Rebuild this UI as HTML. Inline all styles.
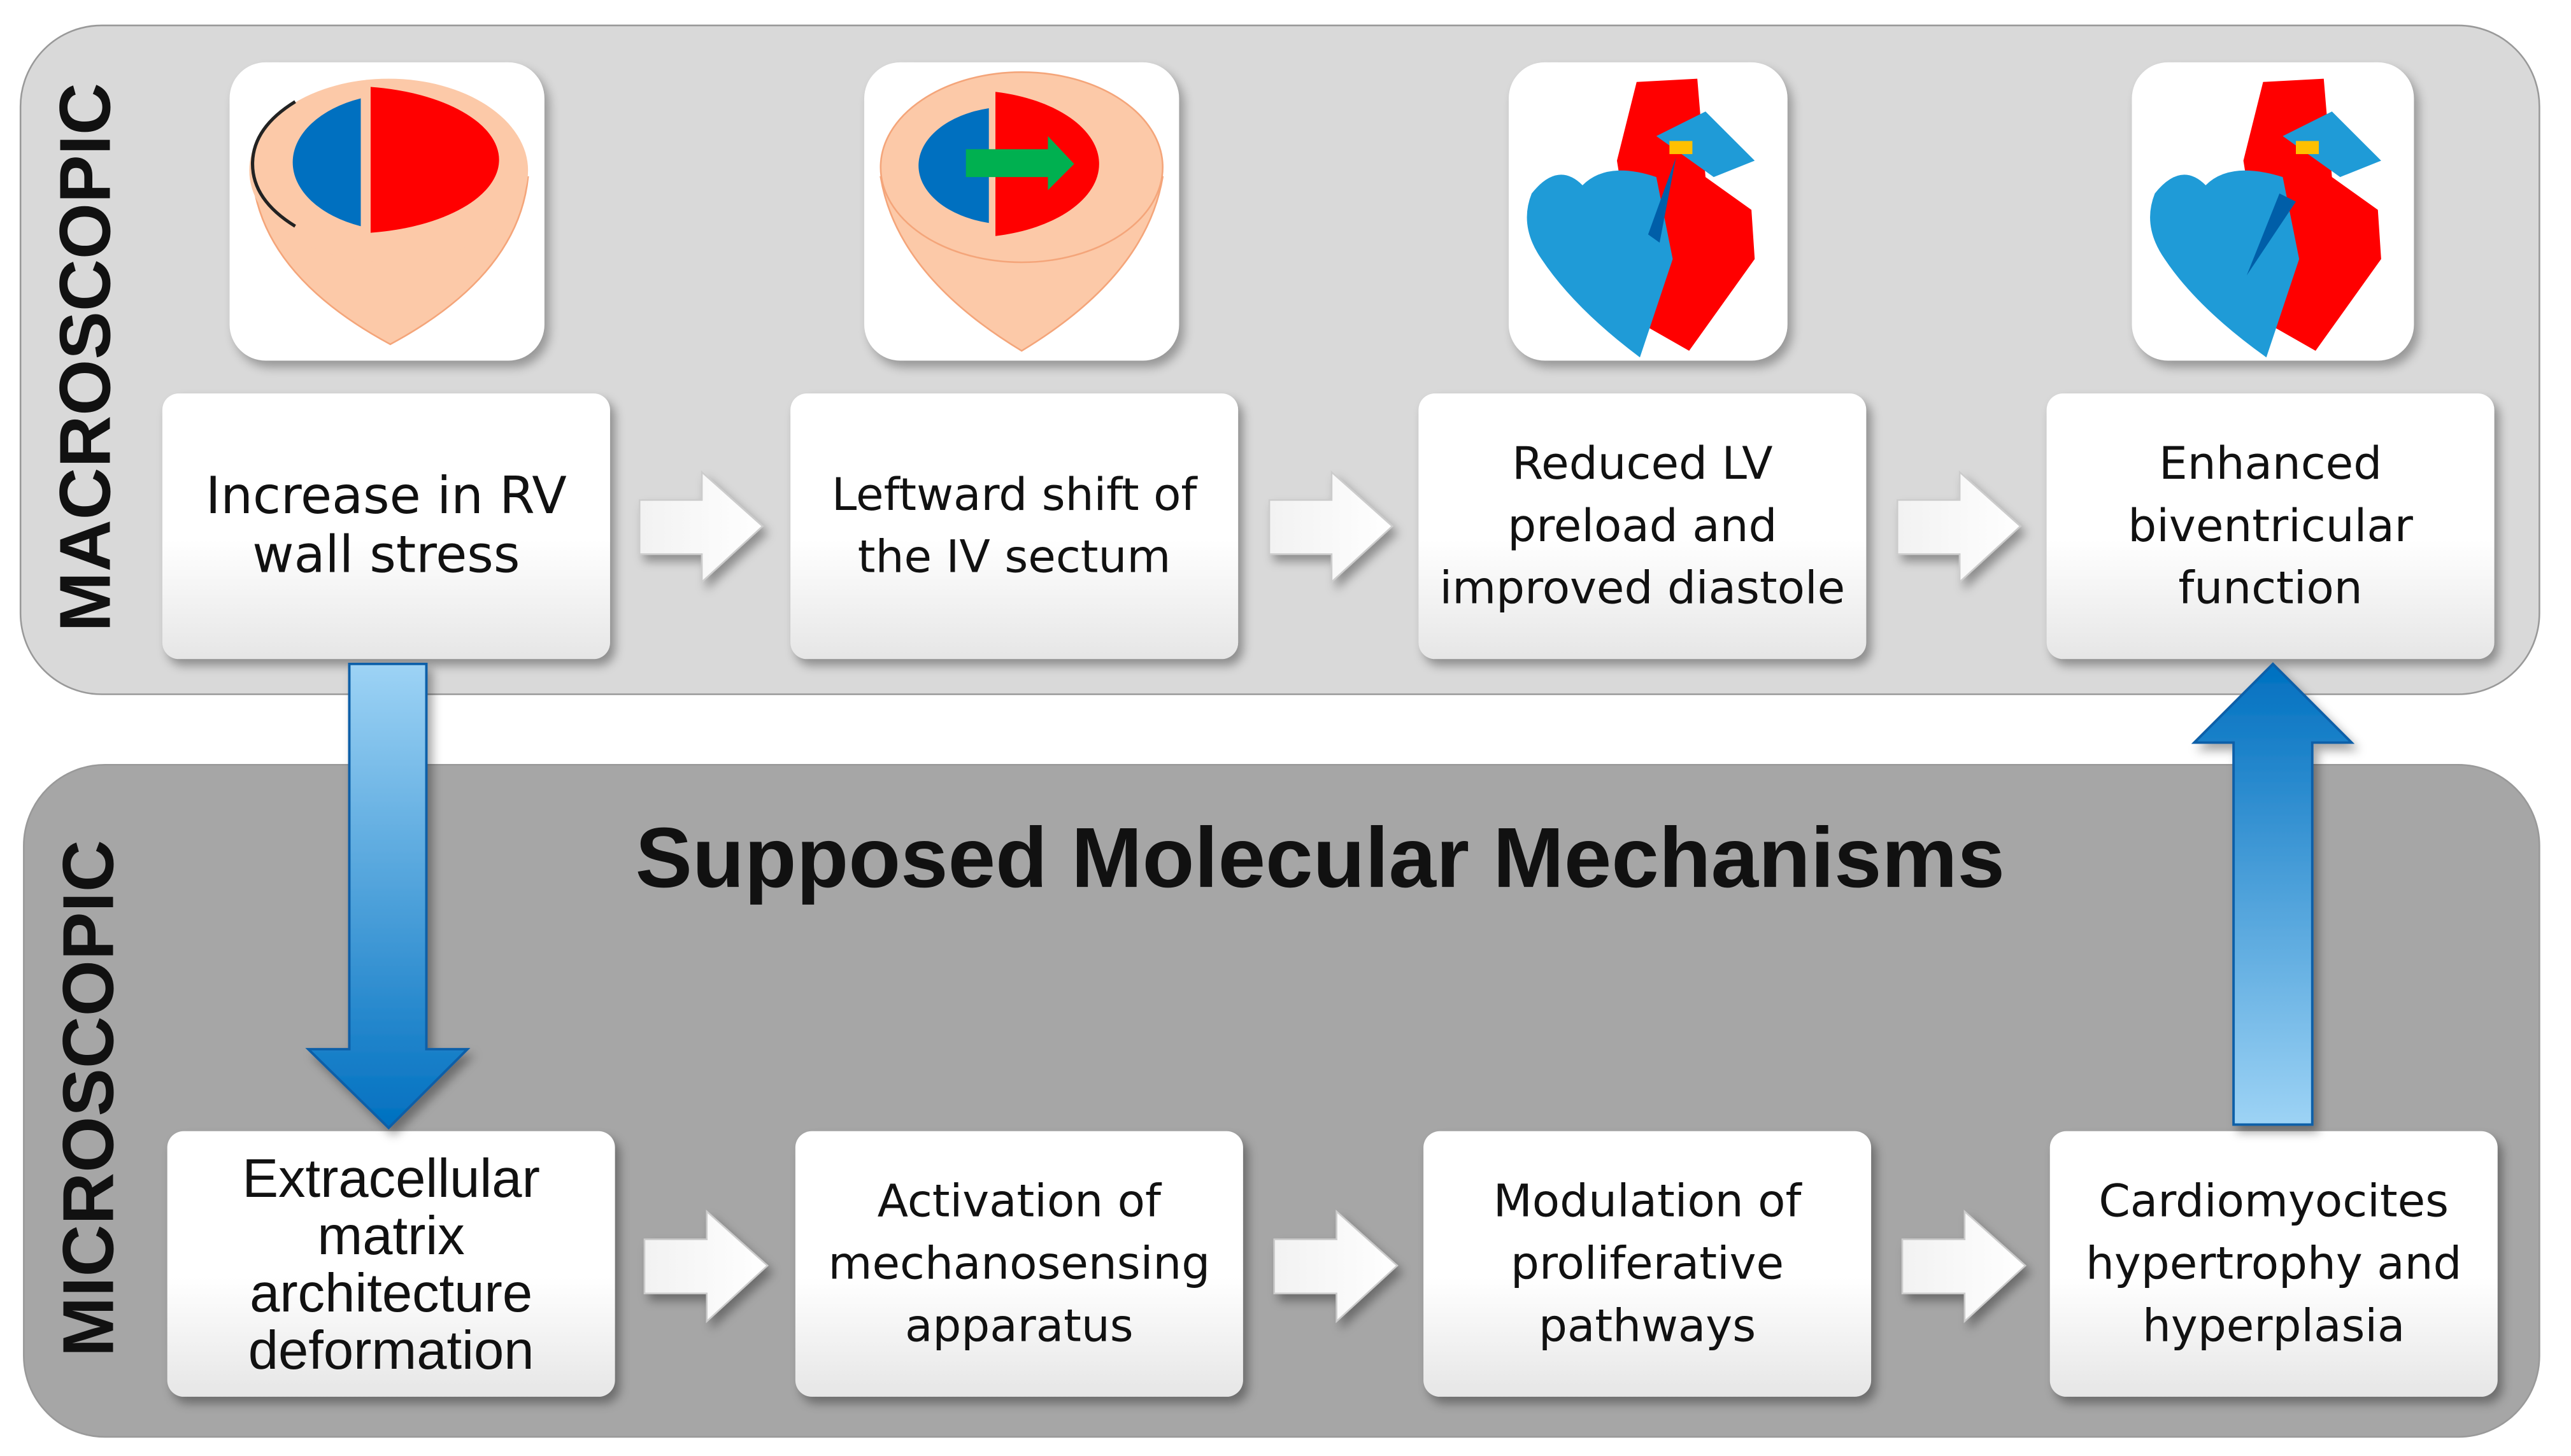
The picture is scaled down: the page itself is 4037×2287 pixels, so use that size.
<!DOCTYPE html>
<html><head><meta charset="utf-8"><style>
html,body{margin:0;padding:0;background:#fff;}
body{width:4037px;height:2287px;overflow:hidden;position:relative;}
#w{position:absolute;left:0;top:0;width:1560px;height:884px;transform:scale(2.575);transform-origin:0 0;font-family:"Liberation Sans","DejaVu Sans",sans-serif;}
.panel{position:absolute;border-radius:50px;border:1.5px solid #999;}
.box{position:absolute;width:273px;height:162px;border-radius:10px;background:linear-gradient(#fff 0%,#fff 55%,#e6e6e6 100%);box-shadow:3px 4px 6px rgba(0,0,0,.35);display:flex;align-items:center;justify-content:center;text-align:center;line-height:38px;color:#111;font-family:"DejaVu Sans","Liberation Sans",sans-serif;font-size:27.5px;}
.tile{position:absolute;background:#fff;border-radius:22px;box-shadow:3px 4px 6px rgba(0,0,0,.3);}
.vt{position:absolute;font-weight:bold;font-size:44px;transform:rotate(-90deg);transform-origin:center;white-space:nowrap;color:#111;}
svg{position:absolute;overflow:visible;}
</style></head><body><div id="w">
<div class="panel" style="left:12px;top:15px;width:1535px;height:407px;background:#d9d9d9"></div>
<div class="panel" style="left:14px;top:466px;width:1533px;height:409px;background:#a6a6a6"></div>
<div class="vt" style="left:-122px;top:193px;width:350px;text-align:center">MACROSCOPIC</div>
<div class="vt" style="left:-120px;top:645px;width:350px;text-align:center">MICROSCOPIC</div>
<div style="position:absolute;left:250px;top:494px;width:1110px;text-align:center;font-weight:bold;font-size:52px;color:#111">Supposed Molecular Mechanisms</div>

<div class="tile" style="left:140px;top:38px;width:192px;height:182px"></div>
<div class="tile" style="left:527px;top:38px;width:192px;height:182px"></div>
<div class="tile" style="left:920px;top:38px;width:170px;height:182px"></div>
<div class="tile" style="left:1300px;top:38px;width:172px;height:182px"></div>
<svg style="left:140px;top:38px" width="192" height="182">
<path d="M14 70 Q20 130 98 172 Q176 130 182 70 Z" fill="#fcc9a8" stroke="#f4a57a"/>
<ellipse cx="97" cy="66" rx="85" ry="56" fill="#fcc9a8"/>
<path d="M80 22 A66 42 0 0 0 80 100 Z" fill="#0070c0"/>
<path d="M86 15 L86 104 A92 45 0 0 0 86 15Z" fill="#ff0000"/>
<path d="M40 24 Q14 40 14 62 Q14 84 40 100" fill="none" stroke="#222" stroke-width="2"/>
</svg>
<svg style="left:527px;top:38px" width="192" height="182">
<path d="M10 70 Q20 130 96 176 Q172 130 182 70 Z" fill="#fcc9a8" stroke="#f4a57a"/>
<ellipse cx="96" cy="64" rx="86" ry="58" fill="#fcc9a8" stroke="#f4a57a"/>
<path d="M76 28 A56 36 0 0 0 76 98 Z" fill="#0070c0"/>
<path d="M80 18 L80 106 A80 45 0 0 0 80 18Z" fill="#ff0000"/>
<path d="M62 53 L112 53 L112 45 L128 62 L112 78 L112 70 L62 70Z" fill="#00b050"/>
</svg>
<svg style="left:920px;top:38px" width="170" height="182">
<path d="M78 12 L66 60 L82 160 L110 176 L150 120 L148 90 L120 70 L115 10 Z" fill="#ff0000"/>
<path d="M14 80 Q30 60 45 75 Q60 60 90 70 L100 120 L80 180 Q40 150 20 120 Q6 100 14 80Z" fill="#1f9bd7"/>
<path d="M90 45 L120 30 L150 60 L125 70Z" fill="#1f9bd7"/>
<rect x="98" y="48" width="14" height="8" fill="#ffc000"/>
<path d="M102 58 L92 110 L85 105Z" fill="#005ea8"/>
</svg>
<svg style="left:1300px;top:38px" width="172" height="182">
<path d="M80 12 L68 60 L84 160 L112 176 L152 120 L150 90 L122 70 L117 10 Z" fill="#ff0000"/>
<path d="M14 80 Q30 60 45 75 Q60 60 92 70 L102 120 L82 180 Q40 150 20 120 Q6 100 14 80Z" fill="#1f9bd7"/>
<path d="M92 45 L122 30 L152 60 L127 70Z" fill="#1f9bd7"/>
<rect x="100" y="48" width="14" height="8" fill="#ffc000"/>
<path d="M70 130 L90 80 L100 85Z" fill="#005ea8"/>
</svg>

<div class="box" style="left:99px;top:240px;font-size:31px;line-height:36px">Increase in RV<br>wall stress</div>
<div class="box" style="left:482px;top:240px">Leftward shift of<br>the IV sectum</div>
<div class="box" style="left:865px;top:240px">Reduced LV<br>preload and<br>improved diastole</div>
<div class="box" style="left:1248px;top:240px">Enhanced<br>biventricular<br>function</div>
<div class="box" style="left:102px;top:690px;line-height:35px;font-family:'Liberation Sans',sans-serif;font-size:33px">Extracellular<br>matrix<br>architecture<br>deformation</div>
<div class="box" style="left:485px;top:690px">Activation of<br>mechanosensing<br>apparatus</div>
<div class="box" style="left:868px;top:690px">Modulation of<br>proliferative<br>pathways</div>
<div class="box" style="left:1250px;top:690px">Cardiomyocites<br>hypertrophy and<br>hyperplasia</div>

<svg style="left:0;top:0" width="1560" height="884">
<defs>
<linearGradient id="wa" x1="0" y1="0" x2="1" y2="0"><stop offset="0" stop-color="#f2f2f2"/><stop offset="1" stop-color="#fff"/></linearGradient>
<linearGradient id="bd" x1="0" y1="0" x2="0" y2="1"><stop offset="0" stop-color="#9dd3f5"/><stop offset="1" stop-color="#0070c0"/></linearGradient>
<linearGradient id="bu" x1="0" y1="1" x2="0" y2="0"><stop offset="0" stop-color="#9dd3f5"/><stop offset="1" stop-color="#0070c0"/></linearGradient>
<filter id="sh"><feDropShadow dx="3" dy="4" stdDeviation="3" flood-opacity="0.35"/></filter>
</defs>
<g fill="url(#wa)" stroke="#ccc" stroke-width="1" filter="url(#sh)">
<path d="M390 305 L428 305 L428 288 L465 321 L428 355 L428 338 L390 338Z"/>
<path d="M774 305 L812 305 L812 288 L849 321 L812 355 L812 338 L774 338Z"/>
<path d="M1157 305 L1195 305 L1195 288 L1232 321 L1195 355 L1195 338 L1157 338Z"/>
<path d="M393 756 L431 756 L431 739 L468 772 L431 806 L431 789 L393 789Z"/>
<path d="M777 756 L815 756 L815 739 L852 772 L815 806 L815 789 L777 789Z"/>
<path d="M1160 756 L1198 756 L1198 739 L1235 772 L1198 806 L1198 789 L1160 789Z"/>
</g>
<path d="M213 405 L260 405 L260 640 L285 640 L237 688 L188 640 L213 640Z" fill="url(#bd)" stroke="#0a5fa8" stroke-width="1.5" filter="url(#sh)"/>
<path d="M1362 686 L1410 686 L1410 453 L1434 453 L1386 405 L1338 453 L1362 453Z" fill="url(#bu)" stroke="#0a5fa8" stroke-width="1.5" filter="url(#sh)"/>
</svg>
</div></body></html>
